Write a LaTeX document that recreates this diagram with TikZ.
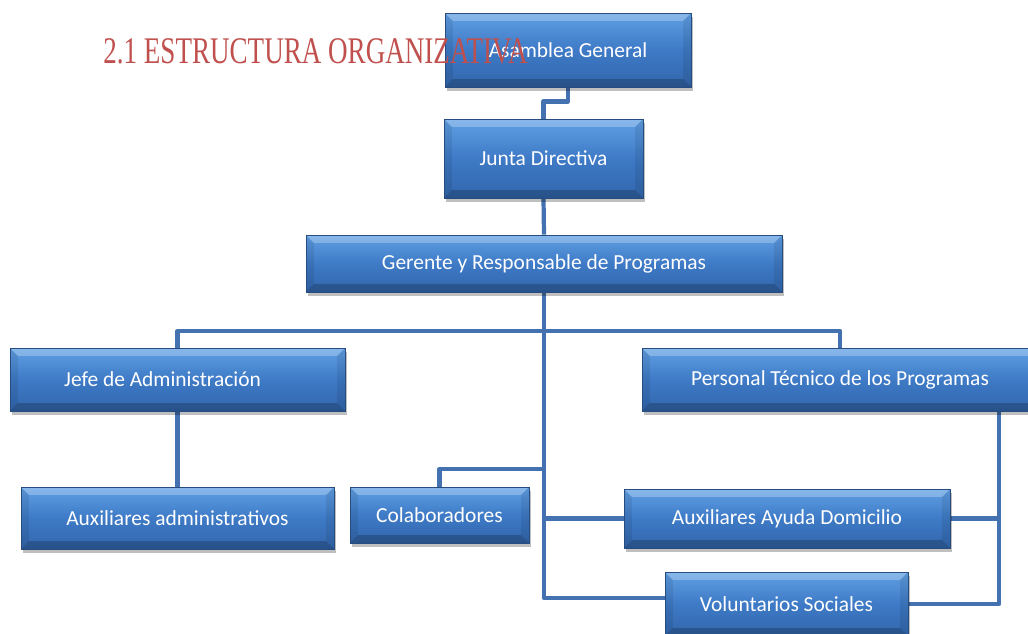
\documentclass[tikz,border=0pt]{standalone}
\usepackage{graphicx}
\usepackage{fontspec}
\setmainfont{Carlito}
\newfontfamily\titlefont{Liberation Serif}
\usetikzlibrary{calc,shadows,backgrounds}
\definecolor{orgtop}{RGB}{96,160,228}
\definecolor{orgmid}{RGB}{62,122,198}
\definecolor{orgbot}{RGB}{50,102,172}
\definecolor{orgedge}{RGB}{38,76,128}
\definecolor{orglink}{RGB}{68,114,176}
\definecolor{orgtitle}{RGB}{192,80,77}
\newcommand{\orgbevel}{%
  \fill[white,opacity=0.25] (path picture bounding box.north west) -- (path picture bounding box.north east)
    -- ([shift={(-4.5pt,-4.5pt)}]path picture bounding box.north east) -- ([shift={(4.5pt,-4.5pt)}]path picture bounding box.north west) -- cycle;
  \fill[black,opacity=0.2] (path picture bounding box.south west) -- (path picture bounding box.south east)
    -- ([shift={(-4.5pt,4.5pt)}]path picture bounding box.south east) -- ([shift={(4.5pt,4.5pt)}]path picture bounding box.south west) -- cycle;
  \fill[black,opacity=0.08] (path picture bounding box.north west) -- ([shift={(4.5pt,-4.5pt)}]path picture bounding box.north west)
    -- ([shift={(4.5pt,4.5pt)}]path picture bounding box.south west) -- (path picture bounding box.south west) -- cycle;
  \fill[black,opacity=0.08] (path picture bounding box.north east) -- ([shift={(-4.5pt,-4.5pt)}]path picture bounding box.north east)
    -- ([shift={(-4.5pt,4.5pt)}]path picture bounding box.south east) -- (path picture bounding box.south east) -- cycle;}
\tikzset{
  orgbox/.style={rectangle,draw=orgedge,line width=0.5pt,inner sep=0pt,
    top color=orgtop,bottom color=orgbot,middle color=orgmid,
    text=white,font=\fontsize{12.2}{14}\selectfont,
    drop shadow={shadow xshift=1.2pt,shadow yshift=-2.4pt,opacity=0.25,fill=black},
    path picture={\orgbevel}},
  linkline/.style={draw=orglink,line width=2.4pt,line join=round},
}
% #1 name, #2-#3 centre, #4-#5 size (px), #6 text
\newcommand{\orgnode}[6]{%
  \node[orgbox,minimum width=#4*0.02cm,minimum height=#5*0.02cm] (#1) at (#2,#3) {#6};}

\begin{document}
\begin{tikzpicture}[x=0.02cm,y=-0.02cm]
  \useasboundingbox (0,0) rectangle (1028,633);
  \clip (0,0) rectangle (1028,633);
  \orgnode{asamblea}{568}{50}{246}{74}{Asamblea General}
  \orgnode{junta}{543.5}{158.5}{199}{79}{Junta Directiva}
  \orgnode{gerente}{544}{263.5}{476}{57}{Gerente y Responsable de Programas}
  \orgnode{jefe}{177.5}{379.5}{335}{63}{\hspace*{-0.6cm}Jefe de Administración}
  \orgnode{personal}{840}{379.5}{396}{63}{Personal Técnico de los Programas}
  \orgnode{auxadm}{177.5}{518}{313}{62}{Auxiliares administrativos}
  \orgnode{colab}{439.5}{515}{179}{56}{Colaboradores}
  \orgnode{aad}{787}{518.5}{326}{59}{Auxiliares Ayuda Domicilio}
  \orgnode{vol}{786.5}{604}{243}{64}{Voluntarios Sociales}
  \coordinate (bar) at (544,331);
  \coordinate (colabjoin) at (544,469);
  \coordinate (rside) at (999,411);
  \begin{scope}[on background layer]
    \draw[linkline] (asamblea.south) -- ++(0,14) -| (junta.north);
    \draw[linkline] (junta.south) -- (gerente.north);
    \draw[linkline] (gerente.south) |- ([yshift=3.4pt]vol.west);
    \draw[linkline] (jefe.north) |- (bar) -| (personal.north);
    \draw[linkline] (jefe.south) -- (auxadm.north);
    \draw[linkline] (colab.north) |- (colabjoin);
    \draw[linkline] (aad.west) -- (aad.west -| gerente.south);
    \draw[linkline] (rside) |- (vol.east);
    \draw[linkline] (aad.east) -- (aad.east -| rside);
  \end{scope}
  \node[font=\titlefont\fontsize{21.4}{24}\selectfont,text=orgtitle,anchor=base west,inner sep=0pt]
    (titulo) at (103,63) {\scalebox{0.72}[1]{2.1 ESTRUCTURA ORGANIZATIVA}};
\end{tikzpicture}
\end{document}
